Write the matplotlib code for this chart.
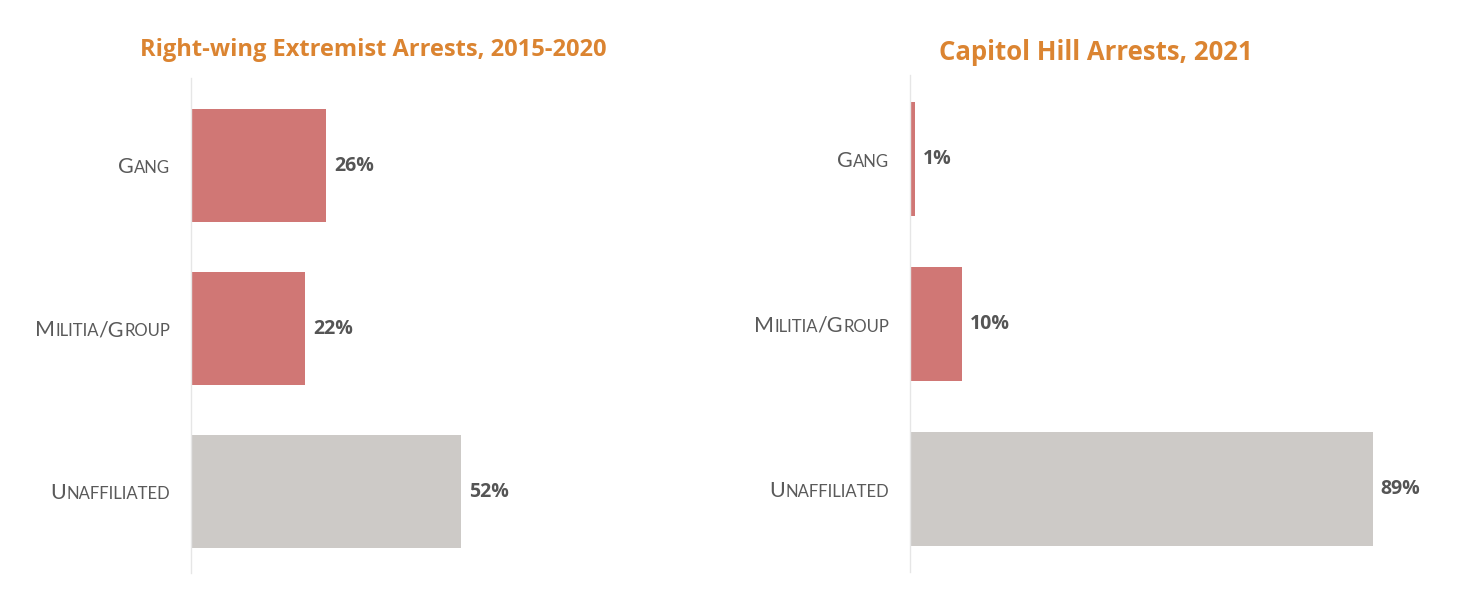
import matplotlib.pyplot as plt
import matplotlib.transforms as mtransforms

categories = ['Gang', 'Militia/Group', 'Unaffiliated']
left_values = [26, 22, 52]
right_values = [1, 10, 89]
left_title = 'Right-wing Extremist Arrests, 2015-2020'
right_title = 'Capitol Hill Arrests, 2021'

bar_colors = ['#D07775', '#D07775', '#CDCAC7']
title_color = '#DB8431'
text_color = '#555555'
label_color = '#5a5a5a'

bold_family = ['Open Sans', 'DejaVu Sans']
label_family = ['Lato', 'DejaVu Sans']

fig = plt.figure(figsize=(14.63, 6.12), dpi=100)
W, H = 1463, 612


def make_axes(x0, top, bottom, ylim):
    ax = fig.add_axes([x0 / W, 1 - bottom / H, 520 / W, (bottom - top) / H])
    ax.set_xlim(0, 100)
    ax.set_ylim(*ylim)
    for s in ['top', 'right', 'bottom']:
        ax.spines[s].set_visible(False)
    ax.spines['left'].set_color('#e6e6e6')
    ax.spines['left'].set_linewidth(1)
    ax.set_xticks([])
    ax.set_yticks([])
    return ax


def small_caps(ax, y, label, gap_px=21, big=15.5, small=12):
    # split label into runs: capitals (and '/') big, lowercase shown as small capitals
    runs = []
    for ch in label:
        is_big = not ch.islower()
        if runs and runs[-1][1] == is_big:
            runs[-1][0] += ch
        else:
            runs.append([ch, is_big])
    base = mtransforms.blended_transform_factory(ax.transAxes, ax.transData)
    renderer = fig.canvas.get_renderer()
    texts = []
    widths = []
    for s, is_big in runs:
        t = ax.text(0, y, s.upper(), transform=base, ha='left', va='baseline',
                    fontsize=big if is_big else small, color=label_color,
                    family=label_family)
        texts.append(t)
        widths.append(t.get_window_extent(renderer).width)
    x = -gap_px - sum(widths)
    dy = -0.36 * big / 72
    for t, w in zip(texts, widths):
        t.set_transform(base + mtransforms.ScaledTranslation(x / 100, dy, fig.dpi_scale_trans))
        x += w


def draw_panel(ax, values):
    ypos = list(range(len(categories)))
    ax.barh(ypos, values, height=0.69, color=bar_colors)
    for y, v in zip(ypos, values):
        ax.annotate(f'{v}%', xy=(v, y), xytext=(8, 0), textcoords='offset pixels',
                    ha='left', va='center', fontsize=14, fontweight='bold',
                    color=text_color, family=bold_family)
    for y, c in zip(ypos, categories):
        small_caps(ax, y, c)
    return ax


ax1 = make_axes(191, 78, 573, (2.5, -0.537))
draw_panel(ax1, left_values)
fig.text(373 / W, 1 - 50 / H, left_title, ha='center', va='center', fontsize=17,
         fontweight='bold', color=title_color, family=bold_family)

ax2 = make_axes(910, 75, 572, (2.503, -0.509))
draw_panel(ax2, right_values)
fig.text(1096 / W, 1 - 52 / H, right_title, ha='center', va='center', fontsize=18.5,
         fontweight='bold', color=title_color, family=bold_family)

fig.savefig('out.png', dpi=100)
